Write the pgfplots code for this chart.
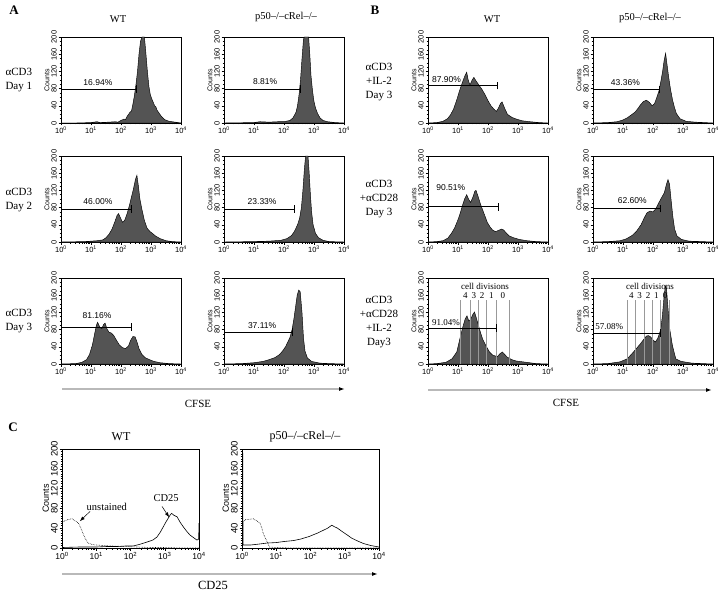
\documentclass[border=0pt]{standalone}
\usepackage{fontspec}
\setmainfont{Liberation Serif}
\setsansfont{Liberation Sans}
\usepackage{pgfplots}
\pgfplotsset{compat=1.18}
\usetikzlibrary{arrows.meta}
\definecolor{histfill}{gray}{0.33}
\pgfplotsset{
 logx/.style={xmin=0,xmax=4,xtick={0,1,2,3,4},
   xticklabels={10\textsuperscript{0},10\textsuperscript{1},10\textsuperscript{2},10\textsuperscript{3},10\textsuperscript{4}},
   minor xtick={0.301,0.477,0.602,0.699,0.778,0.845,0.903,0.954,1.301,1.477,1.602,1.699,1.778,1.845,1.903,1.954,2.301,2.477,2.602,2.699,2.778,2.845,2.903,2.954,3.301,3.477,3.602,3.699,3.778,3.845,3.903,3.954}},
 base/.style={logx, scale only axis, ymin=0, ymax=200, ytick={0,40,...,200},
   tick align=outside, xtick pos=bottom, ytick pos=left,
   major tick length=2.5pt, minor tick length=1.5pt,
   axis line style={line width=0.6pt}, every tick/.style={black,line width=0.5pt},
   /pgf/number format/assume math mode=true,
   yticklabel style={rotate=90, anchor=south, inner sep=1.5pt},
   xticklabel style={inner sep=1.5pt},
   ylabel={Counts}, ylabel style={yshift=-3pt},
   clip=false},
 hist/.style={base, width=120pt, height=86pt, minor y tick num=3,
   ticklabel style={font=\sffamily\fontsize{7.5}{8}\selectfont},
   ylabel style={font=\sffamily\fontsize{7}{7}\selectfont}},
 cpan/.style={base, width=137pt, height=99pt, minor y tick num=7,
   xticklabel style={font=\sffamily\fontsize{8.5}{9}\selectfont},
   yticklabel style={font=\sffamily\fontsize{9.5}{10}\selectfont},
   ylabel style={font=\sffamily\fontsize{9}{10}\selectfont}},
 hp/.style={draw=black, fill=histfill, line width=0.45pt},
 gate/.style={black, line width=0.5pt},
 dl/.style={gray!80, line width=0.5pt},
}
\newcommand{\pct}{\sffamily\fontsize{8.5}{9}\selectfont}
\newcommand{\pcs}{\fontsize{9}{10}\selectfont}
\newcommand{\gate}[2]{%
 \addplot[gate] coordinates {(0,#1) (#2,#1)};
 \addplot[gate] coordinates {(0,#1-9) (0,#1+9)};
 \addplot[gate] coordinates {(#2,#1-9) (#2,#1+9)};}
\begin{document}
\begin{tikzpicture}
\path[use as bounding box] (0pt,0pt) rectangle (720pt,-591pt);
% ---------- labels ----------
\node[font=\bfseries\fontsize{13}{14}\selectfont] at (14pt,-10pt) {A};
\node[font=\bfseries\fontsize{13}{14}\selectfont] at (375pt,-10pt) {B};
\node[font=\bfseries\fontsize{13}{14}\selectfont] at (13pt,-427pt) {C};
\node[font=\fontsize{10.5}{12}\selectfont] at (118pt,-19pt) {WT};
\node[font=\fontsize{10.5}{12}\selectfont] at (286pt,-17pt) {p50–/–cRel–/–};
\node[font=\fontsize{10.5}{12}\selectfont] at (492pt,-19pt) {WT};
\node[font=\fontsize{10.5}{12}\selectfont] at (650pt,-18pt) {p50–/–cRel–/–};
\node[font=\fontsize{11}{14.5}\selectfont, align=left, anchor=west] at (2pt,-80pt) {αCD3\\Day 1};
\node[font=\fontsize{11}{14.5}\selectfont, align=left, anchor=west] at (2pt,-200pt) {αCD3\\Day 2};
\node[font=\fontsize{11}{14.5}\selectfont, align=left, anchor=west] at (2pt,-321pt) {αCD3\\Day 3};
\node[font=\fontsize{11}{14}\selectfont, align=center] at (379pt,-82pt) {αCD3\\+IL-2\\Day 3};
\node[font=\fontsize{11}{14}\selectfont, align=center] at (379pt,-199pt) {αCD3\\+αCD28\\Day 3};
\node[font=\fontsize{11}{14}\selectfont, align=center] at (379pt,-322pt) {αCD3\\+αCD28\\+IL-2\\Day3};
\draw[gray!55, line width=1.3pt, -{Latex[length=6pt,width=4pt,color=black]}] (62pt,-389pt) -- (345pt,-389pt);
\draw[gray!55, line width=1.3pt, -{Latex[length=6pt,width=4pt,color=black]}] (428pt,-390pt) -- (712pt,-390pt);
\draw[gray!55, line width=1.3pt, -{Latex[length=6pt,width=4pt,color=black]}] (62pt,-574pt) -- (378pt,-574pt);
\node[font=\fontsize{11}{12}\selectfont] at (198pt,-404pt) {CFSE};
\node[font=\fontsize{11}{12}\selectfont] at (566pt,-403pt) {CFSE};
\node[font=\fontsize{12.5}{13}\selectfont] at (213pt,-585pt) {CD25};
\node[font=\fontsize{12}{13}\selectfont] at (121pt,-437pt) {WT};
\node[font=\fontsize{12}{13}\selectfont] at (305pt,-437pt) {p50–/–cRel–/–};
% ---------- A1 ----------
\begin{axis}[hist, at={(61pt,-123pt)}, anchor=south west]
\addplot[hp] coordinates {(0,0)(0.5,0)(1.0,1)(1.2,3)(1.3,1)(1.6,2)(1.8,3)(1.9,2)(2.0,6)(2.1,9)(2.15,8)(2.2,15)(2.3,25)(2.35,28)(2.4,45)(2.45,65)(2.5,90)(2.55,120)(2.6,160)(2.65,190)(2.7,200)(2.78,200)(2.82,170)(2.88,120)(2.93,85)(2.98,65)(3.05,52)(3.1,44)(3.12,40)(3.16,38)(3.2,30)(3.28,22)(3.35,15)(3.45,8)(3.6,4)(3.8,2)(4,0)} \closedcycle;
\gate{79}{2.5}
\node[font=\pct] at (axis cs:1.23,95) {16.94\%};
\end{axis}
% ---------- A2 ----------
\begin{axis}[hist, at={(224pt,-123pt)}, anchor=south west]
\addplot[hp] coordinates {(0,0)(1,1)(1.2,3)(1.5,2)(1.8,3)(2.0,3)(2.2,6)(2.3,12)(2.4,25)(2.45,40)(2.5,65)(2.55,100)(2.6,150)(2.65,195)(2.68,200)(2.82,200)(2.86,160)(2.9,110)(2.95,75)(3.0,50)(3.05,35)(3.12,22)(3.2,12)(3.3,6)(3.45,3)(3.7,1)(4,0)} \closedcycle;
\gate{79}{2.53}
\node[font=\pct] at (axis cs:1.37,96) {8.81\%};
\end{axis}
% ---------- A3 ----------
\begin{axis}[hist, at={(61pt,-242pt)}, anchor=south west]
\addplot[hp] coordinates {(0,0)(0.8,1)(1.2,3)(1.4,5)(1.5,10)(1.6,18)(1.7,30)(1.8,48)(1.87,62)(1.92,66)(1.97,58)(2.05,46)(2.12,50)(2.2,65)(2.28,85)(2.35,105)(2.42,125)(2.48,145)(2.53,155)(2.58,130)(2.63,100)(2.7,75)(2.78,50)(2.87,32)(2.97,24)(3.05,20)(3.15,14)(3.3,8)(3.5,3)(3.7,1)(4,0)} \closedcycle;
\gate{77}{2.33}
\node[font=\pct] at (axis cs:1.23,93) {46.00\%};
\end{axis}
% ---------- A4 ----------
\begin{axis}[hist, at={(224pt,-242pt)}, anchor=south west]
\addplot[hp] coordinates {(0,0)(1,1)(1.5,2)(1.9,4)(2.1,8)(2.25,15)(2.35,25)(2.45,40)(2.52,55)(2.58,80)(2.63,120)(2.68,170)(2.72,200)(2.8,200)(2.84,160)(2.88,110)(2.92,70)(2.97,40)(3.05,20)(3.15,10)(3.3,4)(3.5,1)(4,0)} \closedcycle;
\gate{77}{2.33}
\node[font=\pct] at (axis cs:1.27,93) {23.33\%};
\end{axis}
% ---------- A5 ----------
\begin{axis}[hist, at={(61pt,-364pt)}, anchor=south west]
\addplot[hp] coordinates {(0,0)(0.5,1)(0.7,4)(0.85,10)(0.95,22)(1.05,45)(1.12,70)(1.18,90)(1.22,97)(1.3,85)(1.36,82)(1.42,92)(1.47,95)(1.53,82)(1.6,74)(1.68,72)(1.76,66)(1.85,55)(1.95,44)(2.05,38)(2.15,36)(2.25,42)(2.32,55)(2.4,64)(2.47,63)(2.53,52)(2.6,36)(2.7,22)(2.8,15)(2.95,10)(3.1,6)(3.3,3)(3.6,1)(4,0)} \closedcycle;
\gate{86}{2.33}
\node[font=\pct] at (axis cs:1.2,112) {81.16\%};
\end{axis}
% ---------- A6 ----------
\begin{axis}[hist, at={(224pt,-364pt)}, anchor=south west]
\addplot[hp] coordinates {(0,0)(0.6,1)(1.0,3)(1.3,6)(1.5,10)(1.7,15)(1.85,22)(1.95,30)(2.05,40)(2.12,50)(2.2,62)(2.27,80)(2.33,105)(2.39,135)(2.44,160)(2.49,172)(2.54,168)(2.6,120)(2.65,60)(2.7,30)(2.78,14)(2.92,6)(3.2,2)(3.5,1)(4,0)} \closedcycle;
\gate{74}{2.27}
\node[font=\pct] at (axis cs:1.27,90) {37.11\%};
\end{axis}
% ---------- B1 ----------
\begin{axis}[hist, at={(428pt,-123pt)}, anchor=south west]
\addplot[hp] coordinates {(0,0)(0.3,1)(0.5,4)(0.65,10)(0.75,19)(0.85,32)(0.96,54)(1.05,75)(1.15,95)(1.22,108)(1.29,118)(1.34,100)(1.4,88)(1.47,100)(1.53,106)(1.6,98)(1.7,88)(1.8,78)(1.9,66)(2.0,52)(2.1,40)(2.2,32)(2.28,27)(2.35,35)(2.42,46)(2.47,49)(2.55,35)(2.65,20)(2.8,13)(2.95,9)(3.15,5)(3.4,3)(3.7,1)(4,0)} \closedcycle;
\gate{87}{2.31}
\node[font=\pct, anchor=west] at (axis cs:0.02,101) {87.90\%};
\end{axis}
% ---------- B2 ----------
\begin{axis}[hist, at={(593pt,-123pt)}, anchor=south west]
\addplot[hp] coordinates {(0,0)(0.5,1)(0.8,3)(1.0,7)(1.14,12)(1.3,20)(1.41,26)(1.5,34)(1.58,42)(1.68,50)(1.78,53)(1.88,48)(1.97,40)(2.05,45)(2.12,58)(2.2,75)(2.27,100)(2.32,120)(2.37,145)(2.42,162)(2.46,140)(2.52,108)(2.58,80)(2.65,54)(2.72,35)(2.78,22)(2.9,10)(3.1,4)(3.4,2)(4,0)} \closedcycle;
\gate{78}{2.22}
\node[font=\pct] at (axis cs:1.08,93) {43.36\%};
\end{axis}
% ---------- B3 ----------
\begin{axis}[hist, at={(428pt,-242pt)}, anchor=south west]
\addplot[hp] coordinates {(0,0)(0.3,1)(0.5,3)(0.66,9)(0.78,20)(0.89,33)(1.0,52)(1.06,64)(1.15,85)(1.22,100)(1.29,110)(1.35,100)(1.42,92)(1.5,105)(1.56,118)(1.6,120)(1.66,108)(1.75,88)(1.82,75)(1.9,60)(1.98,45)(2.07,35)(2.15,28)(2.25,24)(2.35,27)(2.45,30)(2.52,28)(2.62,20)(2.71,14)(2.85,10)(3.04,6)(3.3,3)(3.6,1)(4,0)} \closedcycle;
\gate{82}{2.35}
\node[font=\pct] at (axis cs:0.76,127) {90.51\%};
\end{axis}
% ---------- B4 ----------
\begin{axis}[hist, at={(593pt,-242pt)}, anchor=south west]
\addplot[hp] coordinates {(0,0)(0.5,1)(0.9,3)(1.1,7)(1.3,15)(1.45,25)(1.6,40)(1.7,55)(1.8,68)(1.9,72)(2.0,70)(2.1,78)(2.2,92)(2.3,105)(2.38,115)(2.45,135)(2.5,145)(2.55,135)(2.6,100)(2.66,60)(2.72,30)(2.8,14)(2.95,6)(3.2,2)(4,0)} \closedcycle;
\gate{78}{2.25}
\node[font=\pct] at (axis cs:1.31,96) {62.60\%};
\end{axis}
% ---------- B5 ----------
\begin{axis}[hist, at={(428pt,-364pt)}, anchor=south west]
\addplot[hp] coordinates {(0,0)(0.3,1)(0.6,4)(0.8,12)(0.96,28)(1.06,58)(1.16,86)(1.24,105)(1.3,112)(1.36,100)(1.42,104)(1.5,116)(1.55,121)(1.62,105)(1.72,80)(1.82,58)(1.95,40)(2.05,28)(2.15,21)(2.31,17)(2.4,24)(2.48,28)(2.56,22)(2.64,16)(2.8,10)(2.94,7)(3.27,4)(3.6,1)(4,0)} \closedcycle;
\addplot[dl] coordinates {(1.09,0)(1.09,150)};
\addplot[dl] coordinates {(1.40,0)(1.40,150)};
\addplot[dl] coordinates {(1.66,0)(1.66,150)};
\addplot[dl] coordinates {(1.95,0)(1.95,150)};
\addplot[dl] coordinates {(2.28,0)(2.28,150)};
\addplot[dl] coordinates {(2.71,0)(2.71,150)};
\gate{84}{2.28}
\node[font=\pcs] at (axis cs:0.6,96) {91.04\%};
\node[font=\pcs] at (axis cs:1.9,180) {cell divisions};
\node[font=\pcs] at (axis cs:1.245,160) {4};
\node[font=\pcs] at (axis cs:1.53,160) {3};
\node[font=\pcs] at (axis cs:1.805,160) {2};
\node[font=\pcs] at (axis cs:2.115,160) {1};
\node[font=\pcs] at (axis cs:2.495,160) {0};
\end{axis}
% ---------- B6 ----------
\begin{axis}[hist, at={(593pt,-364pt)}, anchor=south west]
\addplot[hp] coordinates {(0,0)(0.5,1)(0.9,5)(1.14,12)(1.35,28)(1.58,47)(1.7,58)(1.78,65)(1.85,66)(1.92,63)(2.0,56)(2.08,51)(2.16,60)(2.25,78)(2.31,110)(2.36,150)(2.41,182)(2.45,175)(2.5,130)(2.56,80)(2.65,42)(2.76,12)(2.9,7)(3.03,5)(3.3,2)(4,0)} \closedcycle;
\addplot[dl] coordinates {(1.14,0)(1.14,150)};
\addplot[dl] coordinates {(1.41,0)(1.41,150)};
\addplot[dl] coordinates {(1.70,0)(1.70,150)};
\addplot[dl] coordinates {(1.98,0)(1.98,150)};
\addplot[dl] coordinates {(2.25,0)(2.25,150)};
\addplot[dl] coordinates {(2.55,0)(2.55,150)};
\gate{72}{2.25}
\node[font=\pcs] at (axis cs:0.54,88) {57.08\%};
\node[font=\pcs] at (axis cs:1.9,180) {cell divisions};
\node[font=\pcs] at (axis cs:1.275,160) {4};
\node[font=\pcs] at (axis cs:1.555,160) {3};
\node[font=\pcs] at (axis cs:1.84,160) {2};
\node[font=\pcs] at (axis cs:2.115,160) {1};
\node[font=\pcs] at (axis cs:2.40,160) {0};
\end{axis}
% ---------- C1 ----------
\begin{axis}[cpan, at={(62pt,-548pt)}, anchor=south west]
\addplot[black, densely dotted, line width=0.6pt] coordinates {(0,50)(0.03,53)(0.15,57)(0.29,59)(0.38,55)(0.47,51)(0.54,42)(0.61,30)(0.68,19)(0.76,10)(0.88,7)(1.02,6)(1.2,5)(1.49,4)(1.8,3)(2.2,2)(2.6,1)(3.0,1)(3.5,0)(4,0)};
\addplot[black, line width=0.6pt] coordinates {(0,1)(0.5,2)(1.0,2)(1.3,3)(1.6,3)(1.85,4)(2.07,4)(2.25,7)(2.48,12)(2.65,16)(2.77,22)(2.87,32)(2.95,42)(3.03,52)(3.1,60)(3.17,68)(3.2,70)(3.27,66)(3.36,63)(3.45,52)(3.55,42)(3.65,33)(3.74,26)(3.84,21)(3.94,16)(3.99,18)(4.0,50)};
\node[font=\fontsize{10.5}{12}\selectfont] at (axis cs:1.31,83) {unstained};
\draw[-{Latex[length=5pt,width=3.5pt]}, line width=0.5pt] (axis cs:0.82,74) -- (axis cs:0.52,54);
\node[font=\fontsize{10.5}{12}\selectfont] at (axis cs:3.04,101) {CD25};
\draw[-{Latex[length=5pt,width=3.5pt]}, line width=0.5pt] (axis cs:2.92,84) -- (axis cs:3.13,62);
\end{axis}
% ---------- C2 ----------
\begin{axis}[cpan, at={(242pt,-548pt)}, anchor=south west]
\addplot[black, densely dotted, line width=0.6pt] coordinates {(0,50)(0.09,57)(0.2,58)(0.33,59)(0.45,54)(0.53,50)(0.58,40)(0.62,30)(0.68,20)(0.74,12)(0.8,2)(1.0,1)(1.5,0)(4,0)};
\addplot[black, line width=0.6pt] coordinates {(0.02,200)(0.03,6)(0.24,6)(0.5,8)(0.73,10)(1.0,11)(1.21,13)(1.5,15)(1.71,18)(1.95,23)(2.2,30)(2.35,35)(2.5,40)(2.62,46)(2.7,43)(2.79,40)(2.95,32)(3.08,26)(3.2,20)(3.38,14)(3.55,9)(3.76,5)(4.0,2)};
\end{axis}
\end{tikzpicture}
\end{document}
